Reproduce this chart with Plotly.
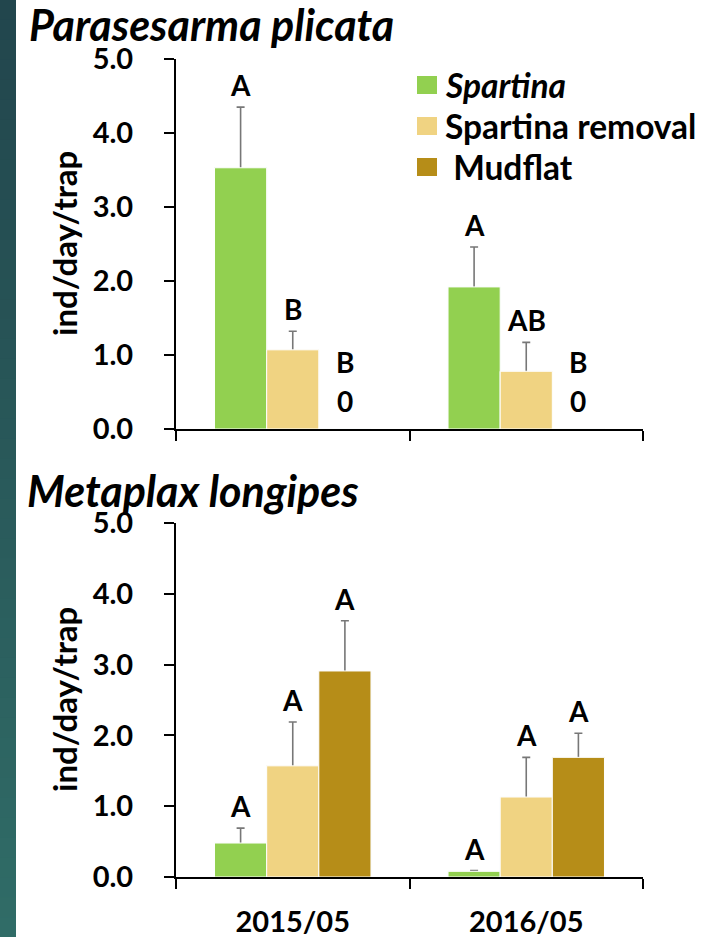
import plotly.graph_objects as go

# Sampling periods and treatments
periods = ["2015/05", "2016/05"]
treatments = ["Spartina", "Spartina removal", "Mudflat"]
legend_labels = ["<i>Spartina</i>", "Spartina removal", " Mudflat"]
colors = ["#92d050", "#f0d382", "#b68d18"]

# Parasesarma plicata: mean catch (ind/day/trap) and standard error
para_mean = [[3.53, 1.92], [1.07, 0.78], [0.0, 0.0]]
para_err = [[0.82, 0.54], [0.25, 0.39], [0.0, 0.0]]
para_letters = [["A", "A"], ["B", "AB"], ["B", "B"]]

# Metaplax longipes: mean catch (ind/day/trap) and standard error
meta_mean = [[0.48, 0.08], [1.57, 1.13], [2.91, 1.69]]
meta_err = [[0.21, 0.01], [0.62, 0.56], [0.71, 0.34]]
meta_letters = [["A", "A"], ["A", "A"], ["A", "A"]]

y_ticks = [0, 1, 2, 3, 4, 5]

W, H = 711, 937
FONT = "Lato"
BARGAP = 0.33


def px(x):
    return x / W


def py(y):
    return 1 - y / H


fig = go.Figure()

panels = [
    ("x", "y", para_mean, para_err, para_letters),
    ("x2", "y2", meta_mean, meta_err, meta_letters),
]

annotations = []
bar_w = (1 - BARGAP) / len(treatments)

for xa, ya, means, errs, letters in panels:
    for i, name in enumerate(treatments):
        # Error whiskers first (transparent bar, whisker runs down to zero),
        # so the coloured bar drawn next hides the lower part
        fig.add_trace(go.Bar(
            x=periods, y=means[i], xaxis=xa, yaxis=ya, offsetgroup=name,
            marker=dict(color="rgba(0,0,0,0)"),
            error_y=dict(type="data", array=errs[i], arrayminus=means[i],
                         symmetric=False, color="#777777", thickness=1.6, width=4,
                         visible=any(e > 0 for e in errs[i])),
            showlegend=False, hoverinfo="skip",
        ))
        fig.add_trace(go.Bar(
            x=periods, y=means[i], name=name, xaxis=xa, yaxis=ya, offsetgroup=name,
            marker=dict(color=colors[i], line=dict(color="white", width=1)),
            showlegend=False,
        ))
        for j in range(len(periods)):
            xpos = j + (i - 1) * bar_w
            top = means[i][j] + errs[i][j]
            shift = 3
            if means[i][j] == 0:
                annotations.append(dict(
                    x=xpos, y=0, xref=xa, yref=ya, text="<b>0</b>", showarrow=False,
                    yanchor="bottom", yshift=9, font=dict(family=FONT, size=28, color="black")))
                shift = 48
            annotations.append(dict(
                x=xpos, y=top, xref=xa, yref=ya, text="<b>%s</b>" % letters[i][j],
                showarrow=False, yanchor="bottom", yshift=shift,
                font=dict(family=FONT, size=28, color="black")))

axis_common = dict(showline=True, linecolor="black", linewidth=2, ticks="outside",
                   ticklen=10, tickwidth=1.5, tickcolor="black", showgrid=False,
                   zeroline=False, automargin=False)

fig.update_layout(
    width=W, height=H, margin=dict(l=0, r=0, t=0, b=0),
    paper_bgcolor="white", plot_bgcolor="white",
    barmode="group", bargap=BARGAP, bargroupgap=0,
    font=dict(family=FONT, color="black"),
    xaxis=dict(domain=[px(176), px(643)], anchor="y", type="category",
               categoryarray=periods, range=[-0.5, 1.5], tickson="boundaries",
               showticklabels=False, **axis_common),
    yaxis=dict(domain=[py(429), py(59)], anchor="x", range=[0, 5], tickvals=y_ticks,
               tickformat=".1f", ticklabelstandoff=25,
               tickfont=dict(family=FONT, size=29, weight="bold"), **axis_common),
    xaxis2=dict(domain=[px(176), px(643)], anchor="y2", type="category",
                categoryarray=periods, range=[-0.5, 1.5], tickson="boundaries",
                ticklabelstandoff=18,
                tickfont=dict(family=FONT, size=29, weight="bold"), **axis_common),
    yaxis2=dict(domain=[py(877), py(523)], anchor="x2", range=[0, 5], tickvals=y_ticks,
                tickformat=".1f", ticklabelstandoff=25,
                tickfont=dict(family=FONT, size=29, weight="bold"), **axis_common),
)

# Panel titles and axis titles
annotations += [
    dict(x=px(27), y=py(25), xref="paper", yref="paper", xanchor="left", yanchor="middle",
         text="<b><i>Parasesarma plicata</i></b>", showarrow=False,
         font=dict(family=FONT, size=43, color="black")),
    dict(x=px(25), y=py(490), xref="paper", yref="paper", xanchor="left", yanchor="middle",
         text="<b><i>Metaplax longipes</i></b>", showarrow=False,
         font=dict(family=FONT, size=43, color="black")),
    dict(x=px(64), y=py(244), xref="paper", yref="paper", textangle=-90,
         xanchor="center", yanchor="middle",
         text="<b>ind/day/trap</b>", showarrow=False,
         font=dict(family=FONT, size=33, color="black")),
    dict(x=px(64), y=py(700), xref="paper", yref="paper", textangle=-90,
         xanchor="center", yanchor="middle",
         text="<b>ind/day/trap</b>", showarrow=False,
         font=dict(family=FONT, size=33, color="black")),
]

# Legend: colour swatches with labels
shapes = []
legend_rows = [85, 126, 167]
for k, lab in enumerate(legend_labels):
    yc = legend_rows[k]
    shapes.append(dict(type="rect", xref="paper", yref="paper",
                       x0=px(417), x1=px(437), y0=py(yc + 9), y1=py(yc - 9),
                       fillcolor=colors[k], line=dict(width=0)))
    annotations.append(dict(x=px(443), y=py(yc), xref="paper", yref="paper",
                            xanchor="left", yanchor="middle", showarrow=False,
                            text="<b>%s</b>" % lab,
                            font=dict(family=FONT, size=33.5, color="black")))

# Dark teal band down the left edge, shaded top to bottom
n_bands = 47
c_top = (0x22, 0x46, 0x4d)
c_bot = (0x30, 0x6c, 0x67)
for b in range(n_bands):
    t = b / (n_bands - 1)
    c = tuple(int(round(c_top[m] + (c_bot[m] - c_top[m]) * t)) for m in range(3))
    shapes.append(dict(type="rect", xref="paper", yref="paper", layer="below",
                       x0=0, x1=px(16), y0=1 - (b + 1) / n_bands - 0.001, y1=1 - b / n_bands,
                       fillcolor="rgb(%d,%d,%d)" % c, line=dict(width=0)))

fig.update_layout(annotations=annotations, shapes=shapes)

fig.write_html("out.html")
